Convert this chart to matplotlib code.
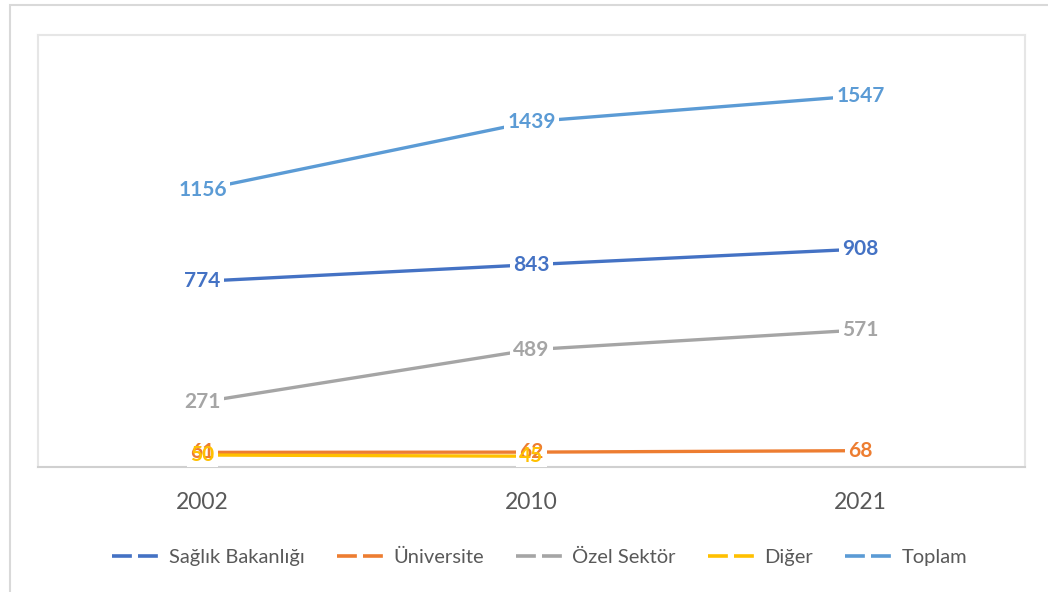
import matplotlib
matplotlib.use('Agg')
import matplotlib.pyplot as plt
from matplotlib.lines import Line2D
from matplotlib.patches import Rectangle

plt.rcParams['font.family'] = ['Lato', 'DejaVu Sans']

years = ['2002', '2010', '2021']
series_names = ['Sağlık Bakanlığı', 'Üniversite', 'Özel Sektör', 'Diğer', 'Toplam']
saglik = [774, 843, 908]
universite = [61, 62, 68]
ozel = [271, 489, 571]
diger = [50, 45]
toplam = [1156, 1439, 1547]
colors = ['#4472C4', '#ED7D31', '#A5A5A5', '#FFC000', '#5B9BD5']
all_series = [saglik, universite, ozel, diger, toplam]

fig = plt.figure(figsize=(10.48, 5.92), dpi=100)
# outer chart border
fig.patches.append(Rectangle((10 / 1048, -0.01), 1.02, 1 - 5 / 592 + 0.01,
                             transform=fig.transFigure, fill=False,
                             edgecolor='#D9D9D9', linewidth=1.5))

ax = fig.add_axes([38 / 1048, 1 - 467 / 592, (1025 - 38) / 1048, (467 - 35) / 592])
x = list(range(len(years)))

for name, vals, c in zip(series_names, all_series, colors):
    xs = x[:len(vals)]
    ax.plot(xs, vals, color=c, linewidth=2.4, solid_capstyle='round', zorder=2)

labels = []
for name, vals, c in zip(series_names, all_series, colors):
    for xi, v in zip(x, vals):
        labels.append(ax.text(xi, v, str(v), color=c, fontsize=15, fontweight='bold',
                              ha='center', va='center', zorder=4))

ax.set_xlim(-0.5, 2.5)
ax.set_ylim(0, 1800)
ax.set_yticks([])
ax.set_xticks(x)
ax.set_xticklabels(years, fontsize=16.5, color='#595959')
ax.tick_params(axis='x', length=0, pad=18)
for side in ['left', 'top', 'right']:
    ax.spines[side].set_color('#E6E6E6')
    ax.spines[side].set_linewidth(1.5)
ax.spines['bottom'].set_color('#D0D0D0')
ax.spines['bottom'].set_linewidth(1.5)

handles = [Line2D([0], [0], color=c, linewidth=2.6, dashes=(5.5, 1.7))
           for c in colors]
fig.legend(handles, series_names, loc='center', bbox_to_anchor=(0.515, 1 - 557 / 592),
           ncol=5, frameon=False, fontsize=14.5, labelcolor='#595959',
           handlelength=2.5, handletextpad=0.3, columnspacing=1.6)

# white boxes behind the labels (under all texts, so overlapping labels stay visible)
fig.canvas.draw()
renderer = fig.canvas.get_renderer()
for t in labels:
    bb = t.get_window_extent(renderer).expanded(1.0, 1.0)
    pad = 3
    ax.add_patch(Rectangle((bb.x0 - pad, bb.y0 - pad), bb.width + 2 * pad, bb.height + 2 * pad,
                           transform=None, facecolor='white', edgecolor='none', zorder=3))

fig.savefig('out.png', dpi=100)
